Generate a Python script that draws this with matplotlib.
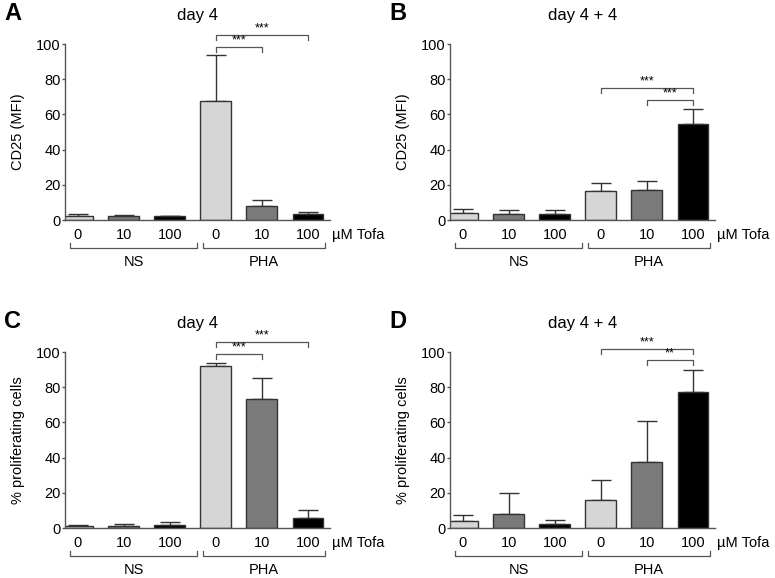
import numpy as np
import matplotlib
matplotlib.use("Agg")
import matplotlib.pyplot as plt

plt.rcParams['font.family'] = ['Liberation Sans', 'DejaVu Sans']

DOSES = ["0", "10", "100", "0", "10", "100"]
GROUPS = ["NS", "PHA"]
BAR_COLORS = ["#d6d6d6", "#7a7a7a", "#000000", "#d6d6d6", "#7a7a7a", "#000000"]

# means and upper error-bar ends
A_MEAN = [2.5, 2.3, 2.0, 67.5, 8.2, 3.3]
A_TOP = [3.2, 2.8, 2.3, 94.0, 11.3, 4.3]
B_MEAN = [4.0, 3.5, 3.4, 16.6, 17.0, 54.5]
B_TOP = [6.2, 5.8, 5.6, 20.8, 22.3, 63.0]
C_MEAN = [1.0, 1.0, 1.5, 92.0, 73.3, 5.8]
C_TOP = [1.8, 2.2, 3.3, 94.0, 85.0, 10.3]
D_MEAN = [3.7, 8.0, 2.3, 16.0, 37.5, 77.0]
D_TOP = [7.5, 20.0, 4.8, 27.0, 60.8, 90.0]

# significance brackets: (left bar, right bar, height, label)
A_SIG = [(3, 4, 98.5, "***"), (3, 5, 105.0, "***")]
B_SIG = [(3, 5, 75.0, "***"), (4, 5, 68.0, "***")]
C_SIG = [(3, 4, 99.0, "***"), (3, 5, 105.5, "***")]
D_SIG = [(3, 5, 101.5, "***"), (4, 5, 95.5, "**")]

W, H = 775, 578
EDGE = "#333333"
LINE = "#555555"
FS = 10.5


def add_panel(fig, left_px, bottom_px, letter, title, ylabel, mean, top, sig):
    ax = fig.add_axes([left_px / W, 1 - bottom_px / H, 265 / W, 176 / H])
    x = np.arange(len(mean))
    mean = np.array(mean)
    err = np.array(top) - mean
    ax.bar(x, mean, width=0.67, color=BAR_COLORS, edgecolor=EDGE, linewidth=1.0, zorder=2)
    ax.errorbar(x, mean, yerr=[np.zeros_like(err), err], fmt="none", ecolor=EDGE,
                elinewidth=1.0, capsize=7, capthick=1.0, zorder=1)
    ax.set_xlim(-0.28, 5.48)
    ax.set_ylim(0, 100)
    ax.set_yticks([0, 20, 40, 60, 80, 100])
    ax.tick_params(axis="y", labelsize=FS, length=2.5, width=1, color=LINE, pad=0.5)
    ax.set_xticks(x)
    ax.set_xticklabels(DOSES, fontsize=FS)
    ax.tick_params(axis="x", length=0, pad=5.5)
    for s in ("top", "right"):
        ax.spines[s].set_visible(False)
    for s in ("left", "bottom"):
        ax.spines[s].set_color(LINE)
        ax.spines[s].set_linewidth(1.0)
    ax.set_ylabel(ylabel, fontsize=FS, labelpad=8)
    ax.set_title(title, fontsize=12, pad=17)
    ax.text(1.008, -0.045, "µM Tofa", transform=ax.transAxes,
            ha="left", va="top", fontsize=FS)

    # group brackets under the dose labels
    tr = ax.get_xaxis_transform()
    for lo, hi, name in [(-0.17, 2.59, GROUPS[0]), (2.72, 5.37, GROUPS[1])]:
        ax.plot([lo, lo, hi, hi], [-0.13, -0.158, -0.158, -0.13], transform=tr,
                color=LINE, lw=0.9, clip_on=False)
        ax.text((lo + hi) / 2, -0.197, name, transform=tr, ha="center", va="top", fontsize=FS)

    for i, j, h, lab in sig:
        ax.plot([x[i], x[i], x[j], x[j]], [h - 2.8, h, h, h - 2.8], color=LINE,
                lw=0.9, clip_on=False)
        ax.text((x[i] + x[j]) / 2, h + 0.3, lab, ha="center", va="bottom", fontsize=9)

    ax.text(-0.23, 1.175, letter, transform=ax.transAxes, fontsize=17, fontweight="bold",
            ha="left", va="center")
    return ax


fig = plt.figure(figsize=(W / 100, H / 100), dpi=100)
add_panel(fig, 65, 220, "A", "day 4", "CD25 (MFI)", A_MEAN, A_TOP, A_SIG)
add_panel(fig, 450, 220, "B", "day 4 + 4", "CD25 (MFI)", B_MEAN, B_TOP, B_SIG)
add_panel(fig, 65, 528, "C", "day 4", "% proliferating cells", C_MEAN, C_TOP, C_SIG)
add_panel(fig, 450, 528, "D", "day 4 + 4", "% proliferating cells", D_MEAN, D_TOP, D_SIG)
fig.savefig("out.png", dpi=100)
